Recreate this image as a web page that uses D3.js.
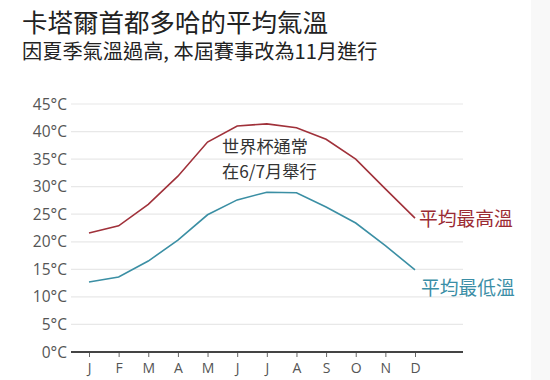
<!DOCTYPE html>
<html><head><meta charset="utf-8">
<script src="https://cdn.jsdelivr.net/npm/d3@7"></script>
<style>
html,body{margin:0;padding:0;background:#fff;}
svg{display:block;font-family:"Noto Sans CJK TC","Noto Sans",sans-serif;}
</style></head>
<body>
<svg id="c" width="550" height="380"></svg>
<script>
const months = ["J","F","M","A","M","J","J","A","S","O","N","D"];
const highTemps = [21.6, 22.9, 26.8, 31.9, 38.1, 41.0, 41.4, 40.7, 38.6, 35.0, 29.6, 24.3];
const lowTemps  = [12.7, 13.6, 16.5, 20.3, 24.9, 27.6, 29.0, 28.9, 26.3, 23.4, 19.3, 14.9];
const yTicks = [0, 5, 10, 15, 20, 25, 30, 35, 40, 45];
const title = "卡塔爾首都多哈的平均氣溫";
const subtitle = "因夏季氣溫過高, 本屆賽事改為11月進行";
const note = ["世界杯通常", "在6/7月舉行"];
const highLabel = "平均最高溫";
const lowLabel = "平均最低溫";

const svg = d3.select("#c");
svg.append("rect").attr("x",531).attr("y",0).attr("width",19).attr("height",380).attr("fill","#f8f8f8");

const x = d3.scalePoint().domain(d3.range(12)).range([89, 415]);
const y = d3.scaleLinear().domain([0, 45]).range([352, 104]);
const left = 71, right = 463;

svg.append("text").attr("x",22).attr("y",32).attr("font-size",25.5).attr("fill","#222").text(title);
svg.append("text").attr("x",22).attr("y",59).attr("font-size",20.2).attr("fill","#222").text(subtitle);

// gridlines
svg.append("g").selectAll("line").data(yTicks.filter(d=>d>0)).join("line")
  .attr("x1",left).attr("x2",right).attr("y1",d=>y(d)).attr("y2",d=>y(d))
  .attr("stroke","#e8e8e8").attr("stroke-width",1.2);

// y labels
svg.append("g").selectAll("text").data(yTicks).join("text")
  .attr("x",67).attr("y",d=>y(d)).attr("dy","0.36em").attr("text-anchor","end")
  .attr("font-size",15.5).attr("fill","#555").attr("font-family","'Open Sans','Noto Sans',sans-serif")
  .text(d=>d+"°C");

// x axis
const xAxis = d3.axisBottom(x).tickSize(5).tickPadding(6).tickFormat(i=>months[i]);
const gx = svg.append("g").attr("transform",`translate(0,${y(0)})`).call(xAxis);
gx.select(".domain").remove();
gx.selectAll(".tick line").attr("stroke","#666");
gx.selectAll(".tick text").attr("font-size",14).attr("fill","#555").attr("font-family","'Open Sans','Noto Sans',sans-serif");
svg.append("line").attr("x1",left).attr("x2",right).attr("y1",y(0)).attr("y2",y(0))
  .attr("stroke","#444").attr("stroke-width",1.8);

const line = d3.line().x((d,i)=>x(i)).y(d=>y(d));
svg.append("path").datum(highTemps).attr("d",line).attr("fill","none").attr("stroke","#a0313a").attr("stroke-width",1.6);
svg.append("path").datum(lowTemps).attr("d",line).attr("fill","none").attr("stroke","#3b8fa4").attr("stroke-width",1.6);

svg.append("text").attr("x",419).attr("y",y(highTemps[11])+8).attr("font-size",18.8).attr("fill","#9b2b33").text(highLabel);
svg.append("text").attr("x",421).attr("y",y(lowTemps[11])+25).attr("font-size",18.8).attr("fill","#3b8ea6").text(lowLabel);

svg.append("g").selectAll("text").data(note).join("text")
  .attr("x",222).attr("y",(d,i)=>153+i*25).attr("font-size",17.2).attr("fill","#333").text(d=>d);
</script>
</body></html>
